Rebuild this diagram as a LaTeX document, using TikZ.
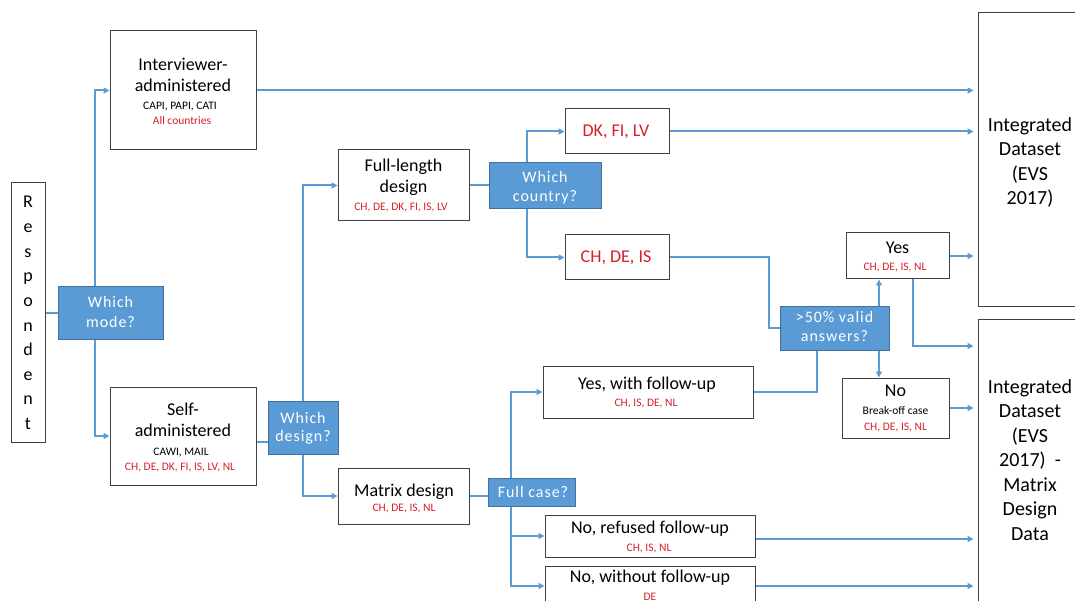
\documentclass[tikz,border=0pt]{standalone}
\usepackage{fontspec}
\setmainfont{Carlito}
\usetikzlibrary{arrows.meta}
\definecolor{lineblue}{HTML}{5B9BD5}
\definecolor{boxblue}{HTML}{5B9BD5}
\definecolor{boxblueedge}{HTML}{41719C}
\definecolor{txtred}{RGB}{214,32,39}
\definecolor{boxedge}{HTML}{404040}
\begin{document}
\begin{tikzpicture}[x=1pt,y=-1pt,
 box/.style={draw=boxedge,line width=1pt,fill=white,inner sep=0pt,rectangle},
 qbox/.style={draw=boxblueedge,line width=1pt,fill=boxblue,inner sep=0pt,rectangle},
 lbl/.style={anchor=base,inner sep=0pt,text=black},
 bigt/.style={lbl,font=\fontsize{18}{22}\selectfont},
 hugt/.style={lbl,font=\fontsize{20}{24}\selectfont},
 smt/.style={lbl,font=\fontsize{11.5}{14}\selectfont},
 redt/.style={smt,text=txtred},
 redbig/.style={bigt,text=txtred},
 qt/.style={lbl,text=white,font=\fontsize{16}{19}\selectfont\addfontfeature{LetterSpace=6}},
 conn/.style={draw=lineblue,line width=2pt},
 arr/.style={conn,-{Triangle[length=6pt,width=6pt]}},
 arrgap/.style={arr,shorten >=4pt}]
\useasboundingbox (0,0) rectangle (1075,601);
\clip (0,0) rectangle (1075,601);

% boxes
\node[box,minimum width=34pt,minimum height=259pt] (resp) at (28,312.5) {};
\node[qbox,minimum width=105pt,minimum height=52pt] (mode) at (110.5,313) {};
\node[box,minimum width=146pt,minimum height=119pt] (inter) at (183,90.5) {};
\node[box,minimum width=146pt,minimum height=98pt] (self) at (183,436) {};
\node[qbox,minimum width=70pt,minimum height=53pt] (design) at (303,427.5) {};
\node[box,minimum width=131pt,minimum height=71pt] (full) at (403.5,185.5) {};
\node[box,minimum width=131pt,minimum height=56pt] (matrix) at (403.5,496) {};
\node[qbox,minimum width=112pt,minimum height=46pt] (country) at (545,186) {};
\node[box,minimum width=104pt,minimum height=45pt] (dk) at (617,131.5) {};
\node[box,minimum width=104pt,minimum height=45pt] (chdeis) at (617,257.5) {};
\node[qbox,minimum width=87pt,minimum height=28pt] (fullcase) at (531.5,492) {};
\node[box,minimum width=210pt,minimum height=52pt] (yeswith) at (648,392) {};
\node[box,minimum width=210pt,minimum height=42pt] (refused) at (650,536) {};
\node[box,minimum width=210pt,minimum height=40pt] (without) at (650,586) {};
\node[qbox,minimum width=109pt,minimum height=44pt] (valid) at (834.5,328) {};
\node[box,minimum width=103pt,minimum height=46pt] (yes) at (897.5,256) {};
\node[box,minimum width=107pt,minimum height=60pt] (no) at (895.5,408) {};
\node[box,minimum width=104pt,minimum height=293pt] (int1) at (1030,159.5) {};
\node[box,minimum width=104pt,minimum height=301pt] (int2) at (1030,469.5) {};
\coordinate (lvl346) at (0,346);

% texts
\foreach \c [count=\i from 0] in {R,e,s,p,o,n,d,e,n,t}
  \node[bigt] (r\i) at (28,{208+24.6*\i}) {\c};
\node[qt] (mode1) at (110.5,308) {Which};
\node[qt] (mode2) at (110.5,327) {mode?};
\node[bigt] (inter1) at (183,70.5) {Interviewer-};
\node[bigt] (inter2) at (183,92) {administered};
\node[smt] (inter3) at (180,110) {CAPI, PAPI, CATI};
\node[redt] (inter4) at (182,125) {All countries};
\node[bigt] (self1) at (183,415) {Self-};
\node[bigt] (self2) at (183,436.7) {administered};
\node[smt] (self3) at (181,455) {CAWI, MAIL};
\node[redt] (self4) at (180,470) {CH, DE, DK, FI, IS, LV, NL};
\node[qt] (design1) at (303,423) {Which};
\node[qt] (design2) at (303,441.7) {design?};
\node[bigt] (full1) at (403.5,172) {Full-length};
\node[bigt] (full2) at (403.5,192.7) {design};
\node[redt] (full3) at (401,211) {CH, DE, DK, FI, IS, LV};
\node[bigt] (matrix1) at (404,496.7) {Matrix design};
\node[redt] (matrix2) at (404,511.7) {CH, DE, IS, NL};
\node[qt] (country1) at (545,183) {Which};
\node[qt] (country2) at (545,201.7) {country?};
\node[redbig] (dk1) at (616,137) {DK, FI, LV};
\node[redbig] (chdeis1) at (616,262.7) {CH, DE, IS};
\node[qt] (fullcase1) at (533,497.3) {Full case?};
\node[bigt] (yeswith1) at (647,389) {Yes, with follow-up};
\node[redt] (yeswith2) at (646,406) {CH, IS, DE, NL};
\node[bigt] (refused1) at (650,533.3) {No, refused follow-up};
\node[redt] (refused2) at (649,551.7) {CH, IS, NL};
\node[bigt] (without1) at (650,582.7) {No, without follow-up};
\node[redt] (without2) at (650,600) {DE};
\node[qt] (valid1) at (834.5,322.7) {>50\% valid};
\node[qt] (valid2) at (834.5,341.7) {answers?};
\node[bigt] (yes1) at (897.5,254) {Yes};
\node[redt] (yes2) at (895,270.7) {CH, DE, IS, NL};
\node[bigt] (no1) at (895.5,396.7) {No};
\node[smt] (no2) at (895.5,414.3) {Break-off case};
\node[redt] (no3) at (895.5,430) {CH, DE, IS, NL};
\foreach \t [count=\i from 0] in {{Integrated},{Dataset},{(EVS},{2017)}}
  \node[hugt] (ia\i) at (1030,{131.5+24.5*\i}) {\t};
\foreach \t [count=\i from 0] in {{Integrated},{Dataset},{(EVS},{2017)\ \ -},{Matrix},{Design},{Data}}
  \node[hugt] (ib\i) at (1030,{393.3+24.5*\i}) {\t};

% connectors
\draw[conn] (resp.east) -- (resp.east -| mode.west);
\draw[arr] ([xshift=-15.5pt]mode.north) |- (inter.west);
\draw[arr] ([xshift=-15.5pt]mode.south) |- (self.west);
\draw[arrgap] (inter.east) -- (inter.east -| int1.west);
\draw[conn] ([yshift=-6pt]self.east) -- ([yshift=-6pt]self.east -| design.west);
\draw[arr] (design.north) |- (full.west);
\draw[arr] (design.south) |- (matrix.west);
\draw[conn] (full.east) -- (full.east -| country.west);
\draw[arr] ([xshift=-18pt]country.north) |- (dk.west);
\draw[arr] ([xshift=-18pt]country.south) |- (chdeis.west);
\draw[arrgap] (dk.east) -- (dk.east -| int1.west);
\draw[conn] (chdeis.east) -- ++(99,0) |- (valid.west);
\draw[arr] ([xshift=44.5pt]valid.north) -- ([xshift=44.5pt]valid.north |- yes.south);
\draw[arr] ([xshift=44.5pt]valid.south) -- ([xshift=44.5pt]valid.south |- no.north);
\draw[arrgap] (yes.east) -- (yes.east -| int1.west);
\draw[arrgap] ([xshift=15.5pt]yes.south) |- (int2.west |- lvl346);
\draw[arrgap] (no.east) -- (no.east -| int2.west);
\draw[conn] (yeswith.east) -| ([xshift=-17.5pt]valid.south);
\draw[conn] (matrix.east) -- (matrix.east -| fullcase.west);
\draw[arr] ([xshift=-20.5pt]fullcase.north) |- (yeswith.west);
\draw[arr] ([xshift=-20.5pt]fullcase.south) |- (refused.west);
\draw[arr] ([xshift=-20.5pt]fullcase.south) |- (without.west);
\draw[arrgap] ([yshift=-3pt]refused.east) -- ([yshift=-3pt]refused.east -| int2.west);
\draw[arrgap] (without.east) -- (without.east -| int2.west);
\end{tikzpicture}
\end{document}
